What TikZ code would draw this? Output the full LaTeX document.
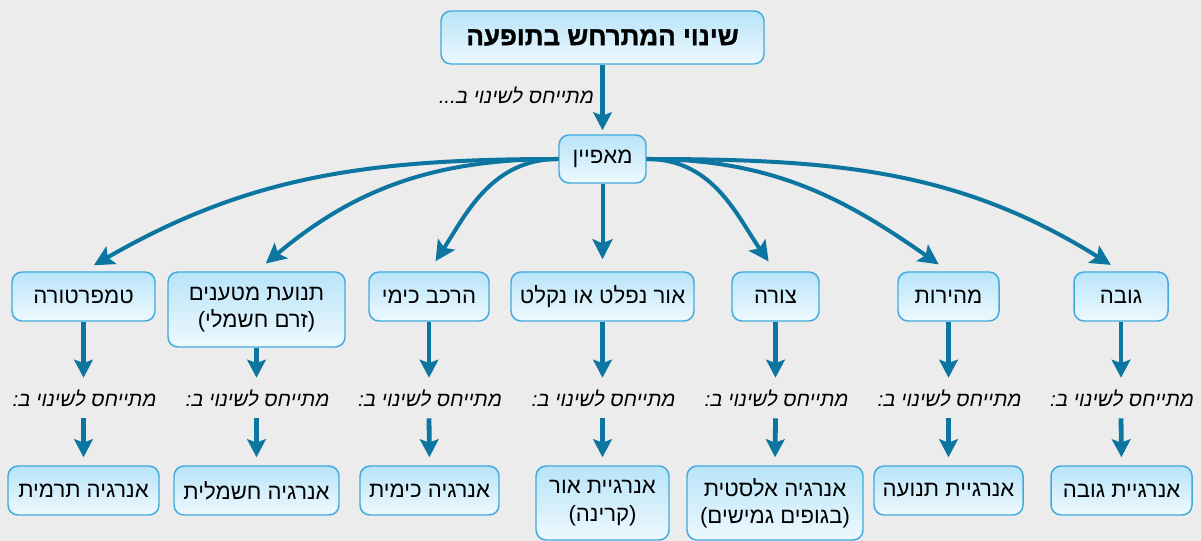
\documentclass[tikz,border=0pt]{standalone}
\usepackage{fontspec}
\newfontfamily\hebfont[Script=Hebrew]{Liberation Sans}
\newfontfamily\hebtitle[Script=Hebrew,BoldFeatures={FakeBold=1.2}]{Liberation Sans}
\newfontfamily\hebit[Script=Hebrew,FakeSlant=0.2]{Liberation Sans}
\TeXXeTstate=1
\usetikzlibrary{arrows.meta}
\definecolor{arr}{RGB}{12,117,160}
\definecolor{bord}{RGB}{64,170,222}
\definecolor{ftop}{RGB}{184,228,249}
\definecolor{fbot}{RGB}{238,249,254}
\definecolor{bg}{RGB}{236,236,236}
\newcommand\heb[1]{\beginR #1\endR}
\begin{document}
\begin{tikzpicture}[x=0.75pt,y=0.75pt,
  box/.style={draw=bord, line width=1.1pt, rounded corners=7.5pt,
    top color=ftop, bottom color=fbot, text=black, align=center,
    inner sep=0pt, minimum height=36.75pt,
    font=\hebfont\fontsize{16.6}{20.5}\selectfont},
  lbl/.style={inner sep=0pt, minimum height=28pt, text=black,
    font=\hebit\fontsize{15.3}{18}\selectfont},
  arrow/.style={draw=arr, line width=3.6pt,
    -{Stealth[length=13.5pt,width=14pt,inset=2.5pt]}},
  curve/.style={draw=arr, line width=3pt,
    -{Stealth[length=15pt,width=15pt,inset=3pt]}, shorten >=9pt}
]
\fill[bg] (0,0) rectangle (1201,-541);
\useasboundingbox (0,0) rectangle (1201,-541);

% top
\node[box, minimum width=242.25pt, minimum height=39.75pt,
  font=\hebtitle\bfseries\fontsize{19.5}{23}\selectfont] (top) at (602.5,-37.5) {\heb{שינוי המתרחש בתופעה}};
\node[box, minimum width=65.25pt, minimum height=36pt] (m) at (602.5,-159) {\heb{מאפיין}};
\node[lbl, anchor=east] (l0) at (593,-95) {\heb{מתייחס לשינוי ב...}};
\draw[arrow, shorten >=3pt] (top.south) -- (m.north);

% row 1
\node[box, minimum width=107.25pt] (a1) at (83.5,-296.5) {\heb{טמפרטורה}};
\node[box, minimum width=132.75pt, minimum height=56.25pt] (a2) at (256.5,-309.5) {\heb{תנועת מטענים}\\\heb{(זרם חשמלי)}};
\node[box, minimum width=90pt] (a3) at (429,-296.5) {\heb{הרכב כימי}};
\node[box, minimum width=137.25pt] (a4) at (602.5,-296.5) {\heb{אור נפלט או נקלט}};
\node[box, minimum width=65.25pt] (a5) at (775.5,-296.5) {\heb{צורה}};
\node[box, minimum width=75.75pt] (a6) at (948.5,-296.5) {\heb{מהירות}};
\node[box, minimum width=70.5pt] (a7) at (1121,-296.5) {\heb{גובה}};

% labels
\foreach \i/\x in {1/83.5,2/256.5,3/429,4/602.5,5/775.5,6/948.5,7/1121}{
  \node[lbl] (l\i) at (\x,-398) {\heb{מתייחס לשינוי ב:}};
}

% row 2
\node[box, minimum width=113.25pt] (b1) at (83.5,-490.5) {\heb{אנרגיה תרמית}};
\node[box, minimum width=123.75pt] (b2) at (256.5,-490.5) {\heb{אנרגיה חשמלית}};
\node[box, minimum width=104.25pt] (b3) at (429.5,-490.5) {\heb{אנרגיה כימית}};
\node[box, minimum width=99.75pt, minimum height=55.5pt] (b4) at (602.5,-503) {\heb{אנרגיית אור}\\\heb{(קרינה)}};
\node[box, minimum width=132pt, minimum height=55.5pt] (b5) at (775,-503) {\heb{אנרגיה אלסטית}\\\heb{(בגופים גמישים)}};
\node[box, minimum width=111.75pt] (b6) at (948.5,-490.5) {\heb{אנרגיית תנועה}};
\node[box, minimum width=105.75pt] (b7) at (1121.5,-490.5) {\heb{אנרגיית גובה}};

% curved arrows from m
\draw[curve] (m.west) to[out=180, in=30] (a1.north);
\draw[curve] (m.west) to[out=180, in=40] (a2.north);
\draw[curve] (m.west) to[out=180, in=57] (a3.north);
\draw[curve] (m.south) -- (a4.north);
\draw[curve] (m.east) to[out=0, in=125] (a5.north);
\draw[curve] (m.east) to[out=0, in=145] (a6.north);
\draw[curve] (m.east) to[out=0, in=148] (a7.north);

% vertical arrows
\foreach \i in {1,...,7}{
  \draw[arrow, shorten >=1pt] (a\i.south) -- (l\i.north);
  \draw[arrow, shorten <=1pt, shorten >=6pt] (l\i.south) -- (b\i.north);
}
\end{tikzpicture}
\end{document}
